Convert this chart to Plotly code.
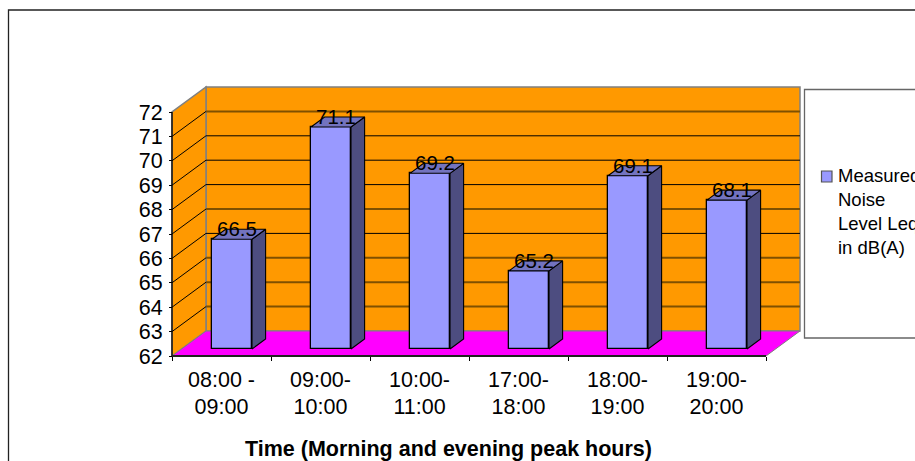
import plotly.graph_objects as go

# Measured noise level per time slot
categories = ["08:00 -<br>09:00", "09:00-<br>10:00", "10:00-<br>11:00",
              "17:00-<br>18:00", "18:00-<br>19:00", "19:00-<br>20:00"]
noise_levels = [66.5, 71.1, 69.2, 65.2, 69.1, 68.1]
value_ticks = list(range(62, 73))
series_name = "Measured<br>Noise<br>Level Leq<br>in dB(A)"
x_title = "Time (Morning and evening peak hours)"

# Pseudo-3D box: scale of the axes and the shift of the back wall
W, H = 915, 461
LEFT, FLOOR = 172, 356          # pixel position of the front corner at 62 dB
PX_CAT, PX_DB = 99.0, 24.4      # pixels per category / per dB
DEPTH_X, DEPTH_Y = 34 / PX_CAT, 25 / PX_DB
PAD = 20
V_MIN, V_MAX = value_ticks[0], value_ticks[-1]
N = len(categories)

BAR_W = 40 / PX_CAT
BAR_CENTER = 60 / PX_CAT        # front-face centre within a category slot
BAR_FRONT = 7 / 25              # depth fraction of the bar's front face
BAR_BACK = 17 / 25              # depth fraction of the bar's back face

BAR_FILL, BAR_SIDE, BAR_TOP = "#9999FF", "#4D4D80", "#7373BF"
STRONG_GRID = {63, 64, 65, 67, 71}


def proj(cat, val, depth=0.0):
    """Project a (category, value, depth) point onto the 2D axes."""
    return cat + depth * DEPTH_X, val + depth * DEPTH_Y


def path(points):
    return "M" + "L".join(f"{x:.4f},{y:.4f}" for x, y in points) + "Z"


PLOT_L = LEFT - PAD
PLOT_R = LEFT + N * PX_CAT + 34 + PAD
PLOT_T = FLOOR - (V_MAX - V_MIN) * PX_DB - 25 - PAD
PLOT_B = FLOOR + PAD


def px_x(px):
    return (px - PLOT_L) / (PLOT_R - PLOT_L)


def px_y(py):
    return (PLOT_B - py) / (PLOT_B - PLOT_T)


fig = go.Figure()
shapes = []


def poly(points, fill, edge=None, width=0):
    shapes.append(dict(type="path", xref="x", yref="y", layer="below", path=path(points),
                       fillcolor=fill, line=dict(color=edge or fill, width=width)))


def seg(a, b, color, width):
    shapes.append(dict(type="line", xref="x", yref="y", layer="below",
                       x0=a[0], y0=a[1], x1=b[0], y1=b[1], line=dict(color=color, width=width)))


# Back wall, side wall and floor
poly([proj(0, V_MIN, 1), proj(N, V_MIN, 1), proj(N, V_MAX, 1), proj(0, V_MAX, 1)], "#FF9900", "#808080", 1.5)
poly([proj(0, V_MIN, 0), proj(0, V_MIN, 1), proj(0, V_MAX, 1), proj(0, V_MAX, 0)], "#FF9900", "#808080", 1.5)
poly([proj(0, V_MIN, 0), proj(N, V_MIN, 0), proj(N, V_MIN, 1), proj(0, V_MIN, 1)], "#FF00FF", "#808080", 1)

# Gridlines run along the side wall and across the back wall
for v in value_ticks[1:-1]:
    seg(proj(0, v, 0), proj(0, v, 1), "#000000", 1)
    if v in STRONG_GRID:
        seg(proj(0, v, 1), proj(N, v, 1), "#7F5000", 2)
    else:
        seg(proj(0, v, 1), proj(N, v, 1), "#000000", 1)

# Outer chart frame and legend box
shapes.append(dict(type="rect", xref="paper", yref="paper", layer="below",
                   x0=px_x(8.5), x1=px_x(960), y0=px_y(500), y1=px_y(10),
                   line=dict(color="#222222", width=1.3), fillcolor="rgba(0,0,0,0)"))
shapes.append(dict(type="rect", xref="paper", yref="paper", layer="below",
                   x0=px_x(804.5), x1=px_x(960), y0=px_y(338), y1=px_y(89.5),
                   line=dict(color="#666666", width=1.3), fillcolor="#FFFFFF"))
# Legend key
shapes.append(dict(type="rect", xref="paper", yref="paper", layer="above",
                   x0=px_x(821.5), x1=px_x(832), y0=px_y(182), y1=px_y(171),
                   line=dict(color="#555555", width=1.2), fillcolor=BAR_FILL))

# Front faces of the bars
front_x = [i + BAR_CENTER for i in range(N)]
base_v = proj(0, V_MIN, BAR_FRONT)[1]
fig.add_trace(go.Bar(
    x=front_x,
    y=[v - V_MIN for v in noise_levels],
    base=base_v,
    width=BAR_W,
    name="Measured Noise Level Leq in dB(A)",
    showlegend=False,
    marker=dict(color=BAR_FILL, line=dict(color="#000000", width=1.3)),
))

# Side and top faces, one closed outline per bar
for i, v in enumerate(noise_levels):
    x0 = front_x[i] - BAR_W / 2
    x1 = front_x[i] + BAR_W / 2
    d = BAR_BACK - BAR_FRONT
    fv = v + BAR_FRONT * DEPTH_Y
    side = [(x1, base_v), (x1 + d * DEPTH_X, base_v + d * DEPTH_Y),
            (x1 + d * DEPTH_X, fv + d * DEPTH_Y), (x1, fv), (x1, base_v)]
    top = [(x0, fv), (x1, fv), (x1 + d * DEPTH_X, fv + d * DEPTH_Y),
           (x0 + d * DEPTH_X, fv + d * DEPTH_Y), (x0, fv)]
    for pts, color in ((side, BAR_SIDE), (top, BAR_TOP)):
        fig.add_trace(go.Scatter(
            x=[p[0] for p in pts], y=[p[1] for p in pts], mode="lines", fill="toself",
            fillcolor=color, line=dict(color="#000000", width=1.1),
            showlegend=False, hoverinfo="skip", cliponaxis=False))

# Axis lines along the front edges of the box
fig.add_trace(go.Scatter(x=[0, 0], y=[V_MIN, V_MAX], mode="lines",
                         line=dict(color="#000000", width=1.3), showlegend=False,
                         hoverinfo="skip", cliponaxis=False))
fig.add_trace(go.Scatter(x=[0, N], y=[V_MIN, V_MIN], mode="lines",
                         line=dict(color="#222222", width=2), showlegend=False,
                         hoverinfo="skip", cliponaxis=False))

# Value labels sitting on the top of each bar
fig.add_trace(go.Scatter(
    x=[x + 5 / PX_CAT for x in front_x],
    y=[v + BAR_FRONT * DEPTH_Y + 8 / PX_DB for v in noise_levels],
    mode="text",
    text=[f"{v:.1f}" for v in noise_levels],
    textposition="middle center",
    textfont=dict(family="Liberation Sans", size=20.5, color="#000000"),
    showlegend=False, hoverinfo="skip", cliponaxis=False))

x_low = -PAD / PX_CAT
y_low = V_MIN - PAD / PX_DB
x_high = x_low + (PLOT_R - PLOT_L) / PX_CAT
y_high = y_low + (PLOT_B - PLOT_T) / PX_DB

fig.update_layout(
    width=W, height=H,
    autosize=False,
    paper_bgcolor="#FFFFFF",
    plot_bgcolor="rgba(0,0,0,0)",
    font=dict(family="Liberation Sans", color="#000000", size=21.5),
    margin=dict(l=PLOT_L, r=W - PLOT_R, t=PLOT_T, b=H - PLOT_B, pad=0, autoexpand=False),
    shapes=shapes,
    bargap=0,
    showlegend=False,
    xaxis=dict(range=[x_low, x_high], tickmode="array",
               tickvals=[i + 0.5 for i in range(N)], ticktext=categories,
               showgrid=False, zeroline=False, showline=False, ticks="",
               anchor="free", position=px_y(FLOOR),
               tickfont=dict(size=21.5), ticklabelstandoff=8,
               minor=dict(tickmode="array", tickvals=list(range(N + 1)), ticks="outside",
                          ticklen=4, tickcolor="#000000", tickwidth=1, showgrid=False)),
    yaxis=dict(range=[y_low, y_high], tickmode="array", tickvals=value_ticks,
               showgrid=False, zeroline=False, showline=False, ticks="outside",
               ticklen=3, tickcolor="#000000", tickwidth=1,
               anchor="free", position=px_x(LEFT), tickfont=dict(size=21.5), ticklabelstandoff=2),
    annotations=[
        dict(text=f"<b>{x_title}</b>", xref="paper", yref="paper",
             x=px_x(448), y=px_y(449), xanchor="center", yanchor="middle",
             showarrow=False, font=dict(size=21.5)),
        dict(text=series_name, xref="paper", yref="paper", align="left",
             x=px_x(836), y=px_y(211), xanchor="left", yanchor="middle",
             showarrow=False, font=dict(size=18.5)),
    ],
)

fig.write_html("out.html", config={"displayModeBar": False})
